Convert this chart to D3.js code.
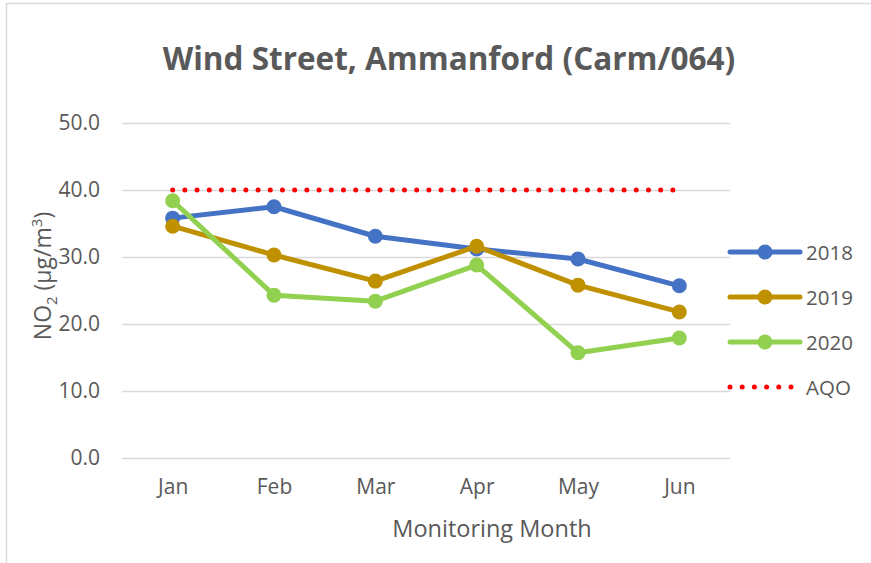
<!DOCTYPE html>
<meta charset="utf-8">
<head>
    <title>Wind Street, Ammanford (Carm/064)</title>
    <script type="text/javascript" src="https://cdn.jsdelivr.net/npm/d3@7"></script>
    <style type="text/css">
        body { margin: 0; background: #fff; }
        text { font-family: "Open Sans", "Noto Sans", sans-serif; fill: #595959; }
    </style>
</head>
<body>
    <div id="chart"></div>
    <script>
        // data
        var months = ["Jan", "Feb", "Mar", "Apr", "May", "Jun"];
        var years = ["2018", "2019", "2020"];
        var values2018 = [35.8, 37.5, 33.1, 31.2, 29.7, 25.7];
        var values2019 = [34.6, 30.3, 26.4, 31.6, 25.8, 21.8];
        var values2020 = [38.4, 24.3, 23.4, 28.8, 15.7, 17.9];
        var aqo = [40, 40, 40, 40, 40, 40];
        var yTicks = [0, 10, 20, 30, 40, 50];
        var colors = {"2018": "#4472C4", "2019": "#BF9000", "2020": "#92D050", "AQO": "#FF0000"};

        var width = 871, height = 563;
        var plot = {left: 122, right: 730, top: 123, bottom: 458};

        var svg = d3.select("#chart").append("svg")
            .attr("width", width)
            .attr("height", height);

        // chart frame (only top and left show in the crop)
        svg.append("line").attr("x1", 6).attr("x2", width).attr("y1", 3.5).attr("y2", 3.5)
            .attr("stroke", "#d9d9d9").attr("stroke-width", 1.5);
        svg.append("line").attr("x1", 6.5).attr("x2", 6.5).attr("y1", 3).attr("y2", height)
            .attr("stroke", "#d9d9d9").attr("stroke-width", 1.5);

        var x = d3.scalePoint()
            .domain(months)
            .range([plot.left, plot.right])
            .padding(0.5);
        var y = d3.scaleLinear()
            .domain([0, 50])
            .range([plot.bottom, plot.top]);

        // gridlines
        svg.append("g")
            .attr("transform", "translate(" + plot.left + ",0)")
            .call(d3.axisLeft(y).tickValues(yTicks).tickSize(-(plot.right - plot.left)).tickFormat(""))
            .call(g => g.select(".domain").remove())
            .call(g => g.selectAll("line").attr("stroke", "#d9d9d9").attr("stroke-width", 1.5));

        // y tick labels
        svg.append("g")
            .attr("transform", "translate(" + plot.left + ",0)")
            .call(d3.axisLeft(y).tickValues(yTicks).tickSize(0).tickPadding(22).tickFormat(d3.format(".1f")))
            .call(g => g.select(".domain").remove())
            .call(g => g.selectAll("text").style("font-size", "21px").attr("fill", "#595959")
                .style("font-family", "'Open Sans', sans-serif"));

        // x tick labels
        svg.append("g")
            .attr("transform", "translate(0," + plot.bottom + ")")
            .call(d3.axisBottom(x).tickSize(0).tickPadding(21))
            .call(g => g.select(".domain").remove())
            .call(g => g.selectAll("text").style("font-size", "21px").attr("fill", "#595959")
                .style("font-family", "'Open Sans', sans-serif"));

        // title
        svg.append("text")
            .attr("x", 449).attr("y", 70)
            .attr("text-anchor", "middle")
            .style("font-size", "31.5px").style("font-weight", "bold")
            .text("Wind Street, Ammanford (Carm/064)");

        // axis titles
        svg.append("text")
            .attr("x", 492).attr("y", 537)
            .attr("text-anchor", "middle")
            .style("font-size", "23.5px")
            .text("Monitoring Month");

        var yTitle = svg.append("text")
            .attr("transform", "translate(51,276) rotate(-90)")
            .attr("text-anchor", "middle")
            .style("font-size", "23px");
        yTitle.append("tspan").text("NO");
        yTitle.append("tspan").attr("dy", 6).style("font-size", "15px").text("2");
        yTitle.append("tspan").attr("dy", -6).text(" (µg/m");
        yTitle.append("tspan").attr("dy", -9).style("font-size", "15px").text("3");
        yTitle.append("tspan").attr("dy", 9).text(")");

        var line = d3.line()
            .x((d, i) => x(months[i]))
            .y(d => y(d));

        // AQO dotted line
        svg.append("path")
            .datum(aqo)
            .attr("d", line)
            .attr("fill", "none")
            .attr("stroke", colors.AQO)
            .attr("stroke-width", 5)
            .attr("stroke-linecap", "round")
            .attr("stroke-dasharray", "0 12.2");

        var series = [
            {name: "2018", values: values2018},
            {name: "2019", values: values2019},
            {name: "2020", values: values2020}
        ];

        series.forEach(function(s) {
            svg.append("path")
                .datum(s.values)
                .attr("d", line)
                .attr("fill", "none")
                .attr("stroke", colors[s.name])
                .attr("stroke-width", 5)
                .attr("stroke-linejoin", "round");
            svg.selectAll(null)
                .data(s.values)
                .enter()
                .append("circle")
                .attr("cx", (d, i) => x(months[i]))
                .attr("cy", d => y(d))
                .attr("r", 7.5)
                .attr("fill", colors[s.name]);
        });

        // legend
        var legendNames = years.concat(["AQO"]);
        legendNames.forEach(function(name, j) {
            var ly = 252 + 45 * j;
            if (name === "AQO") {
                svg.append("line")
                    .attr("x1", 730).attr("x2", 796).attr("y1", ly).attr("y2", ly)
                    .attr("stroke", colors.AQO).attr("stroke-width", 5)
                    .attr("stroke-linecap", "round").attr("stroke-dasharray", "0 12.2");
            } else {
                svg.append("line")
                    .attr("x1", 730).attr("x2", 800).attr("y1", ly).attr("y2", ly)
                    .attr("stroke", colors[name]).attr("stroke-width", 5)
                    .attr("stroke-linecap", "round");
                svg.append("circle")
                    .attr("cx", 765).attr("cy", ly).attr("r", 7.5)
                    .attr("fill", colors[name]);
            }
            svg.append("text")
                .attr("x", 806).attr("y", ly + 7.5)
                .style("font-size", "20.5px")
                .text(name);
        });
    </script>
</body>
</html>
